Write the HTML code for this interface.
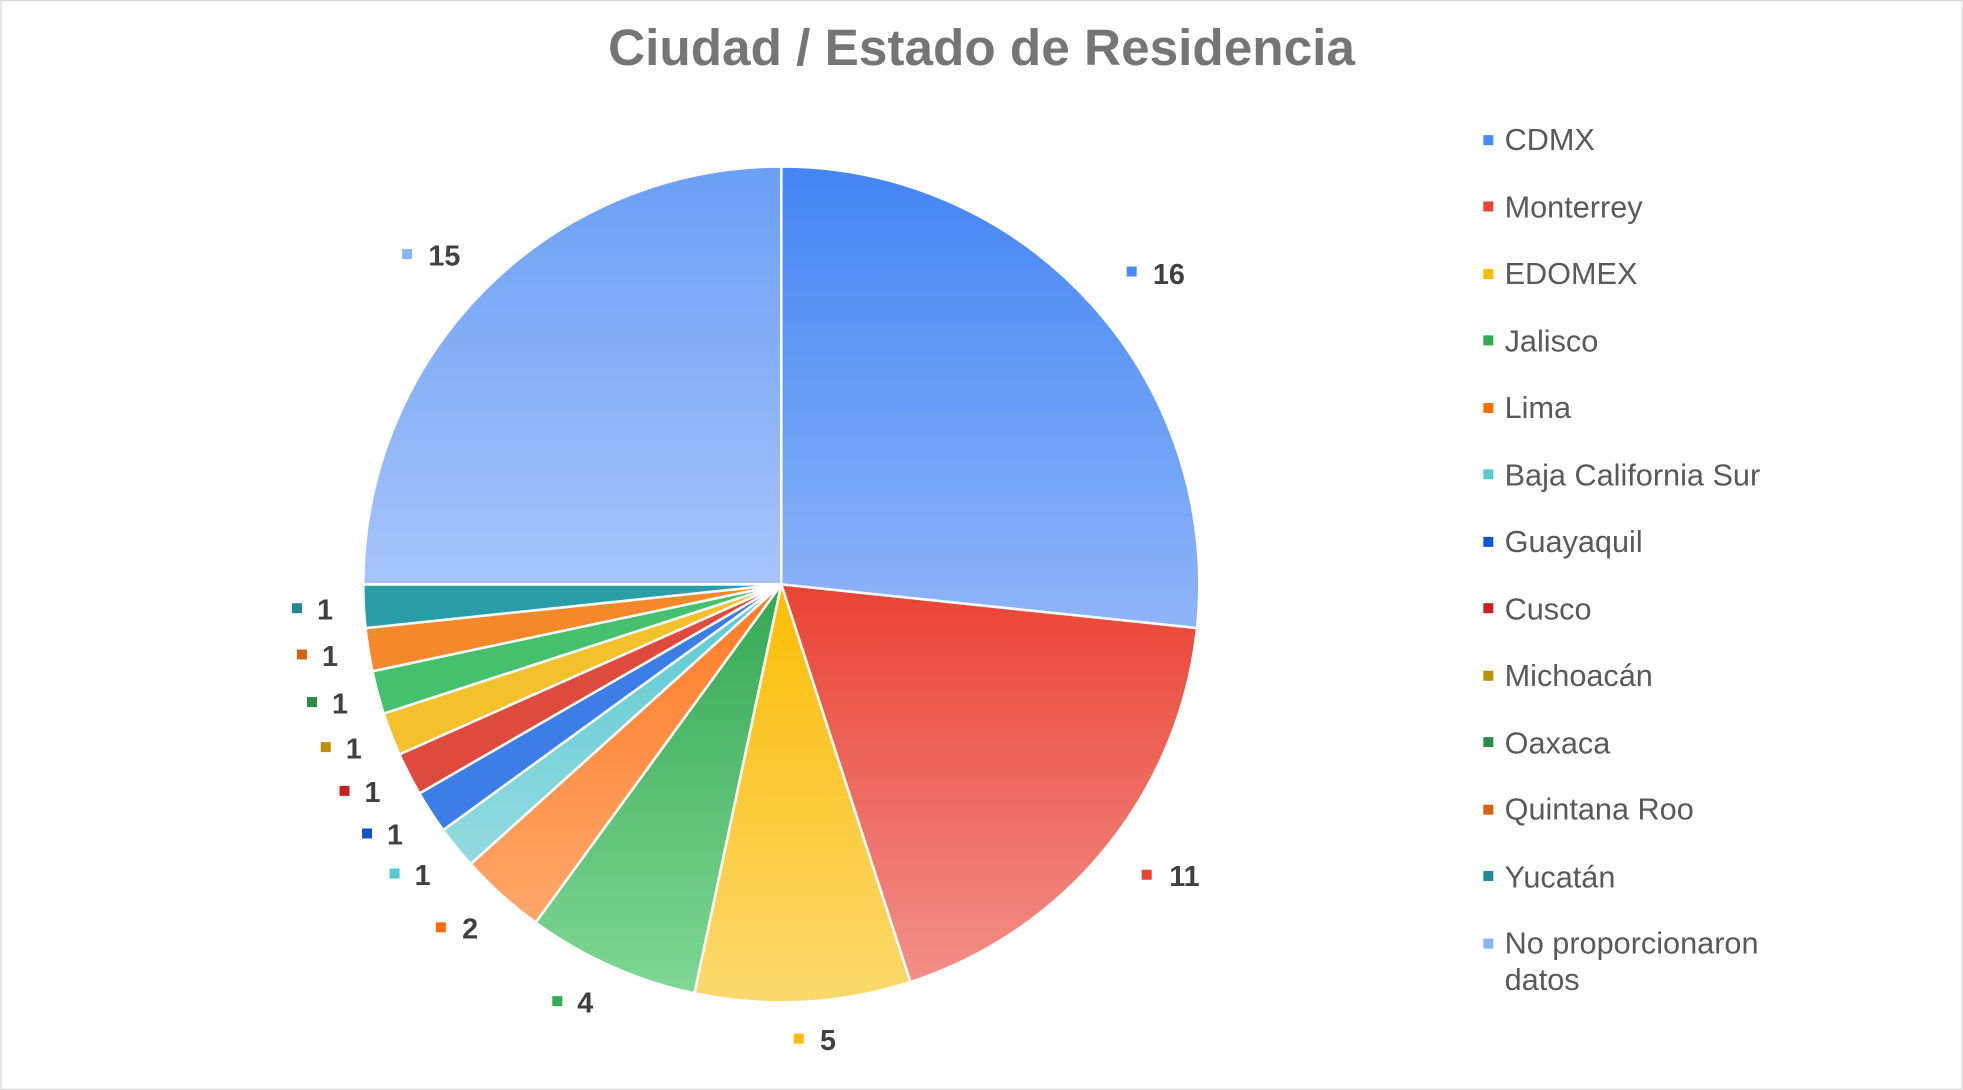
<!DOCTYPE html>
<html><head><meta charset="utf-8"><style>
html,body{margin:0;padding:0;background:#fff;}
svg{display:block;}
text{font-family:"Liberation Sans",Arial,sans-serif;}
</style></head><body>
<svg width="1963" height="1090" viewBox="0 0 1568 871" xmlns="http://www.w3.org/2000/svg">
<defs>
<linearGradient id="g0" x1="0" y1="0" x2="0" y2="1"><stop offset="0" stop-color="#4285f4"/><stop offset="1" stop-color="#8fb5f8"/></linearGradient>
<linearGradient id="g1" x1="0" y1="0" x2="0" y2="1"><stop offset="0" stop-color="#ea4335"/><stop offset="1" stop-color="#f28f88"/></linearGradient>
<linearGradient id="g2" x1="0" y1="0" x2="0" y2="1"><stop offset="0" stop-color="#fbbc04"/><stop offset="1" stop-color="#fcd96e"/></linearGradient>
<linearGradient id="g3" x1="0" y1="0" x2="0" y2="1"><stop offset="0" stop-color="#34a853"/><stop offset="1" stop-color="#7fd795"/></linearGradient>
<linearGradient id="g4" x1="0" y1="0" x2="0" y2="1"><stop offset="0" stop-color="#ff7b25"/><stop offset="1" stop-color="#ffa76a"/></linearGradient>
<linearGradient id="g5" x1="0" y1="0" x2="0" y2="1"><stop offset="0" stop-color="#5ac8d0"/><stop offset="1" stop-color="#93dbe0"/></linearGradient>
<linearGradient id="g12" x1="0" y1="0" x2="0" y2="1"><stop offset="0" stop-color="#6a9ff5"/><stop offset="1" stop-color="#a6c4fa"/></linearGradient>
</defs>
<rect x="0.5" y="0.5" width="1567" height="870" fill="#fff" stroke="#d9d9d9"/>
<text x="784" y="52" text-anchor="middle" font-size="41" font-weight="bold" fill="#757575">Ciudad / Estado de Residencia</text>
<g stroke="#fff" stroke-width="2" stroke-linejoin="round">
<path d="M624,467 L624,133 A334,334 0 0 1 956.2,501.9 Z" fill="url(#g0)"/>
<path d="M624,467 L956.2,501.9 A334,334 0 0 1 727.2,784.7 Z" fill="url(#g1)"/>
<path d="M624,467 L727.2,784.7 A334,334 0 0 1 554.6,793.7 Z" fill="url(#g2)"/>
<path d="M624,467 L554.6,793.7 A334,334 0 0 1 427.7,737.2 Z" fill="url(#g3)"/>
<path d="M624,467 L427.7,737.2 A334,334 0 0 1 375.8,690.5 Z" fill="url(#g4)"/>
<path d="M624,467 L375.8,690.5 A334,334 0 0 1 353.8,663.3 Z" fill="url(#g5)"/>
<path d="M624,467 L353.8,663.3 A334,334 0 0 1 334.8,634 Z" fill="#3d7ee6"/>
<path d="M624,467 L334.8,634 A334,334 0 0 1 318.9,602.8 Z" fill="#df4a3f"/>
<path d="M624,467 L318.9,602.8 A334,334 0 0 1 306.3,570.2 Z" fill="#f2c12b"/>
<path d="M624,467 L306.3,570.2 A334,334 0 0 1 297.3,536.4 Z" fill="#45c06d"/>
<path d="M624,467 L297.3,536.4 A334,334 0 0 1 291.8,501.9 Z" fill="#f5882a"/>
<path d="M624,467 L291.8,501.9 A334,334 0 0 1 290,467 Z" fill="#2a9ea8"/>
<path d="M624,467 L290,467 A334,334 0 0 1 624,133 Z" fill="url(#g12)"/>
</g>
<g font-size="23" font-weight="bold" fill="#404040">
<rect x="900" y="213" width="8" height="8" fill="#4a8af4"/><text x="921" y="227">16</text>
<rect x="912" y="695" width="8" height="8" fill="#ea4335"/><text x="934" y="708">11</text>
<rect x="634" y="826" width="8" height="8" fill="#fbbc04"/><text x="655" y="839">5</text>
<rect x="441" y="796" width="8" height="8" fill="#34a853"/><text x="461" y="809">4</text>
<rect x="348" y="737" width="8" height="8" fill="#ff6d01"/><text x="369" y="750">2</text>
<rect x="311" y="694" width="8" height="8" fill="#5ac8d0"/><text x="331" y="707">1</text>
<rect x="289" y="662" width="8" height="8" fill="#1155cc"/><text x="309" y="675">1</text>
<rect x="271" y="628" width="8" height="8" fill="#cc1f1f"/><text x="291" y="641">1</text>
<rect x="256" y="593" width="8" height="8" fill="#bf9000"/><text x="276" y="606">1</text>
<rect x="245" y="557" width="8" height="8" fill="#2e8b45"/><text x="265" y="570">1</text>
<rect x="237" y="519" width="8" height="8" fill="#d2650e"/><text x="257" y="532">1</text>
<rect x="233" y="482" width="8" height="8" fill="#1f8a94"/><text x="253" y="495">1</text>
<rect x="321" y="199" width="8" height="8" fill="#8ab4f8"/><text x="342" y="212">15</text>
</g>
<g font-size="24.5" fill="#595959">
<rect x="1185" y="108" width="8" height="8" fill="#4a8af4"/><text x="1202" y="120">CDMX</text>
<rect x="1185" y="161" width="8" height="8" fill="#ea4335"/><text x="1202" y="174">Monterrey</text>
<rect x="1185" y="215" width="8" height="8" fill="#fbbc04"/><text x="1202" y="227">EDOMEX</text>
<rect x="1185" y="268" width="8" height="8" fill="#34a853"/><text x="1202" y="281">Jalisco</text>
<rect x="1185" y="322" width="8" height="8" fill="#ff6d01"/><text x="1202" y="334">Lima</text>
<rect x="1185" y="375" width="8" height="8" fill="#5ac8d0"/><text x="1202" y="388">Baja California Sur</text>
<rect x="1185" y="429" width="8" height="8" fill="#1155cc"/><text x="1202" y="441">Guayaquil</text>
<rect x="1185" y="482" width="8" height="8" fill="#cc1f1f"/><text x="1202" y="495">Cusco</text>
<rect x="1185" y="536" width="8" height="8" fill="#bf9000"/><text x="1202" y="548">Michoacán</text>
<rect x="1185" y="589" width="8" height="8" fill="#2e8b45"/><text x="1202" y="602">Oaxaca</text>
<rect x="1185" y="643" width="8" height="8" fill="#d2650e"/><text x="1202" y="655">Quintana Roo</text>
<rect x="1185" y="696" width="8" height="8" fill="#1f8a94"/><text x="1202" y="709">Yucatán</text>
<rect x="1185" y="750" width="8" height="8" fill="#8ab4f8"/><text x="1202" y="762">No proporcionaron</text>
<text x="1202" y="791">datos</text>
</g>
</svg>
</body></html>
